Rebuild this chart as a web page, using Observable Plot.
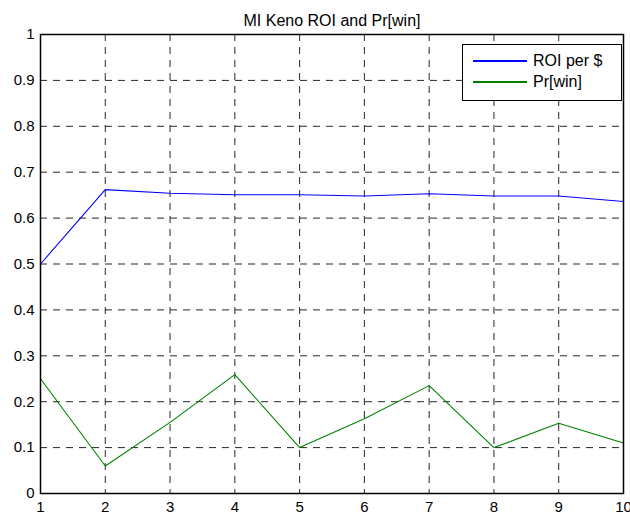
<!DOCTYPE html>
<html>
<head>
<meta charset="utf-8">
<script src="https://cdn.jsdelivr.net/npm/d3@7"></script>
<script src="https://cdn.jsdelivr.net/npm/@observablehq/plot@0.6"></script>
<style>
  html, body { margin: 0; padding: 0; background: #fff; }
  #wrap { position: relative; width: 630px; height: 518px; font-family: "Liberation Sans", Arial, sans-serif; }
  #legend { position: absolute; left: 462px; top: 44px; width: 160px; height: 57px; border: 1px solid #000; background: #fff; box-sizing: border-box; }
  #legend .row { position: absolute; left: 10px; height: 20px; display: flex; align-items: center; font-size: 16px; color: #000; }
  #legend .sw { width: 54px; height: 1.3px; margin-right: 6px; }
</style>
</head>
<body>
<div id="wrap"></div>
<script>
const title = "MI Keno ROI and Pr[win]";
const xs = [1, 2, 3, 4, 5, 6, 7, 8, 9, 10];
const roi = [0.500, 0.662, 0.654, 0.651, 0.651, 0.648, 0.653, 0.648, 0.648, 0.636];
const prWin = [0.250, 0.060, 0.155, 0.259, 0.100, 0.163, 0.235, 0.100, 0.153, 0.110];
const seriesNames = ["ROI per $", "Pr[win]"];
const seriesColors = ["#0000ff", "#008000"];
const xTicks = [1, 2, 3, 4, 5, 6, 7, 8, 9, 10];
const yTicks = [0, 0.1, 0.2, 0.3, 0.4, 0.5, 0.6, 0.7, 0.8, 0.9, 1];
const yTickLabels = ["0", "0.1", "0.2", "0.3", "0.4", "0.5", "0.6", "0.7", "0.8", "0.9", "1"];

const data = [];
xs.forEach((x, i) => {
  data.push({x, y: roi[i], series: seriesNames[0]});
  data.push({x, y: prWin[i], series: seriesNames[1]});
});

const chart = Plot.plot({
  width: 630,
  height: 518,
  marginLeft: 40,
  marginRight: 7,
  marginTop: 34,
  marginBottom: 25,
  style: {fontFamily: "'Liberation Sans', Arial, sans-serif", fontSize: "15px", color: "#000", background: "#fff"},
  x: {domain: [1, 10]},
  y: {domain: [0, 1]},
  color: {domain: seriesNames, range: seriesColors},
  marks: [
    Plot.gridX(xTicks.slice(1, -1), {stroke: "#000", strokeOpacity: 0.85, strokeWidth: 1, strokeDasharray: "7,6"}),
    Plot.gridY(yTicks.slice(1, -1), {stroke: "#000", strokeOpacity: 0.85, strokeWidth: 1, strokeDasharray: "7,6"}),
    Plot.line(data, {x: "x", y: "y", z: "series", stroke: "series", strokeWidth: 1.1}),
    Plot.frame({stroke: "#000", strokeWidth: 1.5}),
    Plot.axisX({ticks: xTicks, tickSize: 0, tickPadding: 8, fontSize: 15, label: null}),
    Plot.axisY({ticks: yTicks, tickSize: 0, tickPadding: 6, fontSize: 15, label: null,
      tickFormat: d => yTickLabels[yTicks.indexOf(d)]}),
    Plot.text([title], {frameAnchor: "top", dy: -20, fontSize: 16, fill: "#000"})
  ]
});

const wrap = document.getElementById("wrap");
wrap.appendChild(chart);

const legend = document.createElement("div");
legend.id = "legend";
seriesNames.forEach((name, i) => {
  const row = document.createElement("div");
  row.className = "row";
  row.style.top = (6 + i * 21) + "px";
  const sw = document.createElement("div");
  sw.className = "sw";
  sw.style.background = seriesColors[i];
  const label = document.createElement("span");
  label.textContent = name;
  row.appendChild(sw);
  row.appendChild(label);
  legend.appendChild(row);
});
wrap.appendChild(legend);
</script>
</body>
</html>
